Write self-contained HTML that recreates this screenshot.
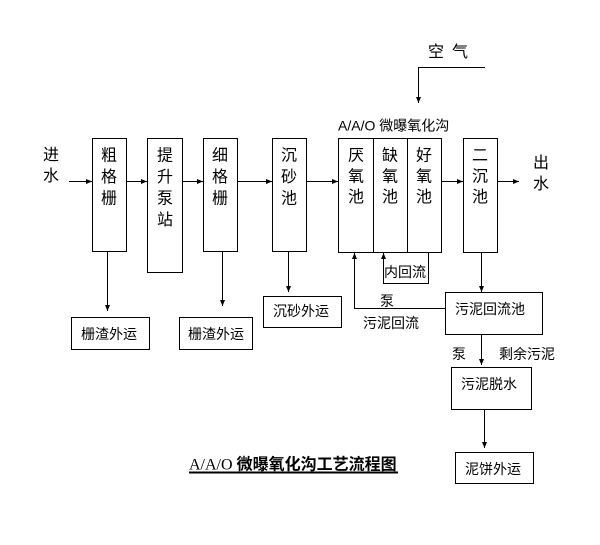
<!DOCTYPE html>
<html><head><meta charset="utf-8"><style>
html,body{margin:0;padding:0;background:#fff;}
svg{display:block;}
text{font-family:"Liberation Sans","Noto Sans CJK SC",sans-serif;fill:#000;}
</style></head><body>
<svg width="600" height="545" viewBox="0 0 600 545" xmlns="http://www.w3.org/2000/svg">
<defs>
<marker id="a" viewBox="0 0 6 6" refX="6" refY="3" markerWidth="6" markerHeight="6" markerUnits="userSpaceOnUse" orient="auto">
<path d="M0,0.5 L6,3 L0,5.5 z" fill="#000"/>
</marker>
</defs>
<g fill="none" stroke="#000" stroke-width="1" shape-rendering="crispEdges">
<rect x="92.5" y="138.5" width="34" height="113"/>
<rect x="147.5" y="138.5" width="35" height="134"/>
<rect x="203.5" y="138.5" width="34" height="113"/>
<rect x="272.5" y="138.5" width="34" height="113"/>
<rect x="338.5" y="138.5" width="103" height="114"/>
<line x1="373.5" y1="138" x2="373.5" y2="253"/>
<line x1="407.5" y1="138" x2="407.5" y2="253"/>
<rect x="463.5" y="138.5" width="34" height="114"/>
<rect x="71.5" y="317.5" width="78" height="32"/>
<rect x="179.5" y="317.5" width="73" height="32"/>
<rect x="263.5" y="296.5" width="78" height="31"/>
<rect x="445.5" y="292.5" width="97" height="42"/>
<rect x="451.5" y="367.5" width="80" height="42"/>
<rect x="455.5" y="452.5" width="78" height="31"/>
</g>
<g fill="none" stroke="#000" stroke-width="1">
<line x1="69" y1="181.5" x2="92" y2="181.5" marker-end="url(#a)"/>
<line x1="127" y1="181.5" x2="147" y2="181.5" marker-end="url(#a)"/>
<line x1="183" y1="181.5" x2="203" y2="181.5" marker-end="url(#a)"/>
<line x1="238" y1="181.5" x2="272" y2="181.5" marker-end="url(#a)"/>
<line x1="307" y1="181.5" x2="338" y2="181.5" marker-end="url(#a)"/>
<line x1="442" y1="181.5" x2="463" y2="181.5" marker-end="url(#a)"/>
<line x1="498" y1="181.5" x2="519" y2="181.5" marker-end="url(#a)"/>
<line x1="107.5" y1="252" x2="107.5" y2="311" marker-end="url(#a)"/>
<line x1="222.5" y1="252" x2="222.5" y2="306" marker-end="url(#a)"/>
<line x1="288.5" y1="252" x2="288.5" y2="292" marker-end="url(#a)"/>
<line x1="481.5" y1="253" x2="481.5" y2="292" marker-end="url(#a)"/>
<line x1="481.5" y1="335" x2="481.5" y2="365" marker-end="url(#a)"/>
<line x1="484.5" y1="410" x2="484.5" y2="448" marker-end="url(#a)"/>
<polyline points="485,67.5 418.5,67.5 418.5,103" marker-end="url(#a)"/>
<polyline points="445,308.5 354.5,308.5 354.5,253" marker-end="url(#a)"/>
<polyline points="428.5,253 428.5,283.5 383.5,283.5 383.5,253" marker-end="url(#a)"/>
</g>
<g font-size="16" text-anchor="middle">
<text x="51" y="160">进</text><text x="51" y="181">水</text>
<text x="109" y="160.5">粗</text><text x="109" y="182">格</text><text x="109" y="203.5">栅</text>
<text x="165" y="160.5">提</text><text x="165" y="182">升</text><text x="165" y="203.5">泵</text><text x="165" y="225">站</text>
<text x="220" y="160.5">细</text><text x="220" y="182">格</text><text x="220" y="203.5">栅</text>
<text x="289" y="160.5">沉</text><text x="289" y="182">砂</text><text x="289" y="203.5">池</text>
<text x="356" y="160.5">厌</text><text x="356" y="181.5">氧</text><text x="356" y="202">池</text>
<text x="390" y="160.5">缺</text><text x="390" y="181.5">氧</text><text x="390" y="202">池</text>
<text x="424" y="160.5">好</text><text x="424" y="181.5">氧</text><text x="424" y="202">池</text>
<text x="480" y="160.5">二</text><text x="480" y="181.5">沉</text><text x="480" y="202">池</text>
<text x="541" y="168">出</text><text x="541" y="189">水</text>
<text x="436" y="57">空</text><text x="460" y="57">气</text>
</g>
<g font-size="14">
<text x="338" y="130.5">A/A/O 微曝氧化沟</text>
<text x="81" y="339">栅渣外运</text>
<text x="188" y="339">栅渣外运</text>
<text x="273" y="316">沉砂外运</text>
<text x="384" y="277">内回流</text>
<text x="380" y="306">泵</text>
<text x="363" y="328">污泥回流</text>
<text x="455" y="314">污泥回流池</text>
<text x="452" y="359">泵</text>
<text x="499" y="359">剩余污泥</text>
<text x="461" y="389">污泥脱水</text>
<text x="465" y="474">泥饼外运</text>
</g>
<text x="189" y="469.5" font-size="16"><tspan font-family="Liberation Serif, serif">A/A/O </tspan><tspan font-weight="bold">微曝氧化沟工艺流程图</tspan></text>
<line x1="189" y1="472.5" x2="398" y2="472.5" stroke="#000" stroke-width="2"/>
</svg>
</body></html>
